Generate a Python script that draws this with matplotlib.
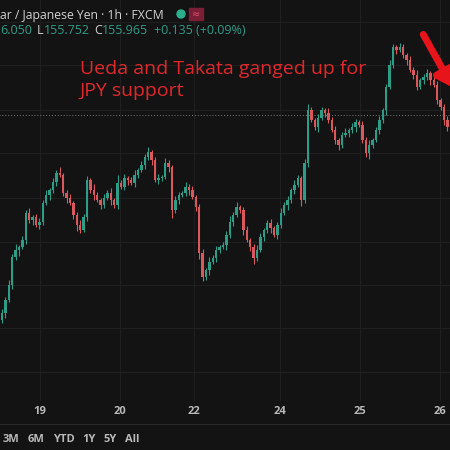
import matplotlib.pyplot as plt
import numpy as np

# closes, in screen pixels (y grows downward)
close_px = [313, 300, 285, 257, 250, 247, 240, 213, 220, 217, 225, 222,
            203, 195, 190, 182, 173, 175, 193, 198, 203, 215, 225, 230,
            217, 180, 190, 195, 200, 205, 198, 193, 200, 205, 183, 187,
            178, 180, 183, 175, 170, 165, 157, 152, 160, 180, 178, 177,
            163, 167, 210, 200, 195, 193, 187, 190, 197, 207, 253, 277,
            270, 262, 258, 250, 247, 245, 235, 222, 215, 207, 210, 230,
            240, 247, 258, 250, 237, 230, 223, 228, 235, 225, 213, 205,
            200, 190, 185, 178, 200, 163, 110, 120, 127, 118, 110, 113,
            120, 130, 140, 145, 135, 133, 130, 127, 122, 125, 140, 153,
            145, 140, 130, 120, 110, 87, 65, 47, 50, 47, 55, 60,
            70, 75, 87, 80, 77, 73, 80, 85, 100, 107, 120, 127]
wick_up = [4, 3, 5, 3, 6, 2, 4, 3, 5, 2, 3, 4, 3, 5, 2, 4, 3, 6, 2, 3,
           4, 2, 3, 5, 3, 4, 2, 6, 3, 2, 4, 3, 5, 2, 8, 3, 4, 2, 3, 5,
           2, 4, 3, 5, 2, 3, 4, 2, 5, 3, 2, 4, 3, 2, 5, 3, 4, 2, 3, 4,
           2, 5, 3, 4, 2, 3, 4, 6, 3, 5, 2, 3, 4, 2, 3, 5, 4, 2, 3, 4,
           2, 3, 5, 3, 4, 2, 5, 3, 2, 4, 6, 3, 2, 4, 3, 2, 5, 3, 4, 2,
           3, 5, 2, 4, 3, 2, 4, 3, 5, 2, 3, 4, 2, 3, 5, 3, 2, 4, 3, 2,
           4, 3, 5, 2, 3, 4, 2, 3, 4, 2, 3, 4]
wick_dn = [3, 5, 2, 4, 3, 6, 2, 4, 3, 5, 2, 4, 3, 2, 5, 3, 4, 2, 3, 5,
           2, 4, 6, 3, 2, 4, 3, 5, 2, 4, 3, 2, 5, 3, 4, 2, 3, 5, 2, 4,
           3, 2, 4, 3, 5, 2, 4, 3, 2, 5, 8, 3, 4, 2, 3, 5, 2, 4, 6, 4,
           3, 5, 2, 4, 3, 2, 5, 3, 4, 2, 3, 5, 2, 4, 6, 3, 2, 4, 3, 5,
           2, 4, 3, 2, 5, 3, 4, 2, 6, 3, 4, 2, 3, 5, 2, 4, 3, 2, 4, 5,
           3, 2, 4, 3, 5, 2, 3, 4, 6, 3, 2, 4, 3, 5, 2, 3, 4, 2, 3, 5,
           2, 4, 3, 2, 4, 3, 5, 2, 4, 3, 5, 4]
date_labels = ["19", "20", "22", "24", "25", "26"]
date_pos = [11.2, 34.7, 56.5, 81.8, 105.3, 128.8]
ranges = ["3M", "6M", "YTD", "1Y", "5Y", "All"]
last_close = 155.965


def px_to_price(y):
    return last_close + (115 - np.asarray(y, dtype=float)) * 0.01


close = px_to_price(close_px)
opens = np.concatenate([[px_to_price(320)], close[:-1]])
highs = np.maximum(opens, close) + np.array(wick_up) * 0.01
lows = np.minimum(opens, close) - np.array(wick_dn) * 0.01

BG = "#131313"
GREEN = "#2f9c86"
RED = "#d9585d"
TXT = "#b8b8b8"

fig = plt.figure(figsize=(4.5, 4.5), dpi=100, facecolor=BG)
ax = fig.add_axes([0, 0, 1, 1])
ax.set_facecolor(BG)
ax.set_xlim(-2 / 3.4, 448 / 3.4)
ax.set_ylim(px_to_price(450), px_to_price(0))
ax.axis("off")
renderer = fig.canvas.get_renderer()

# grid
for gy in [22, 65, 110, 153, 198, 242, 285, 328, 372]:
    ax.plot([-5, 140], [px_to_price(gy)] * 2, color="#1f1f1f", lw=0.8, zorder=0)
for gx in date_pos:
    ax.plot([gx, gx], [px_to_price(0), px_to_price(400)], color="#1f1f1f",
            lw=0.8, zorder=0)

# candles
idx = np.arange(len(close))
colors = [GREEN if c >= o else RED for o, c in zip(opens, close)]
ax.vlines(idx, lows, highs, colors=colors, lw=0.8, zorder=2)
ax.bar(idx, close - opens, bottom=opens, width=0.7, color=colors, zorder=3)

# last price dotted line
ax.plot([-5, 140], [last_close] * 2, color="#7a7a7a", lw=0.7, ls=(0, (1, 2)),
        zorder=1)

# x axis labels and bottom toolbar
for lab, p in zip(date_labels, date_pos):
    ax.text(p, px_to_price(412), lab, color=TXT, fontsize=8, ha="center",
            va="center", fontfamily="Open Sans", fontweight="bold")
ax.plot([-5, 140], [px_to_price(424)] * 2, color="#2a2a2a", lw=0.8)
x0 = 3
for r in ranges:
    t = fig.text(x0 / 450, 1 - 440 / 450, r, color=TXT, fontsize=8,
                 va="center", fontfamily="Open Sans", fontweight="bold")
    x0 += t.get_window_extent(renderer).width + 8

# header
fig.text(0, 1 - 15 / 450, "ar / Japanese Yen · 1h · FXCM", color="#d0d0d0",
         fontsize=8.8, va="center", fontfamily="Open Sans")
fig.patches.append(plt.Circle((181 / 450, 1 - 14 / 450), 4 / 450,
                              color="#2bb08e", transform=fig.transFigure))
fig.patches.append(plt.Rectangle((189 / 450, 1 - 20 / 450), 14 / 450, 12 / 450,
                                 color="#7a1f35", transform=fig.transFigure))
fig.text(196 / 450, 1 - 14 / 450, "≈", color="#e05070", fontsize=7,
         ha="center", va="center")
parts = [("6.050", GREEN, 5), ("L", "#d0d0d0", 0), ("155.752", GREEN, 5),
         ("C", "#d0d0d0", 0), ("155.965", GREEN, 6), ("+0.135 (+0.09%)", GREEN, 0)]
xp = 0
for s, c, gap in parts:
    t = fig.text(xp / 450, 1 - 30 / 450, s, color=c, fontsize=9, va="center",
                 fontfamily="Open Sans")
    xp += t.get_window_extent(renderer).width + gap

# annotation
fig.text(80 / 450, 1 - 80 / 450, "Ueda and Takata ganged up for\nJPY support",
         color="#e0282c", fontsize=14, va="center", linespacing=1.35,
         fontfamily="Open Sans")
ax.annotate("", xy=(133, px_to_price(90)), xytext=(123.5, px_to_price(32)),
            annotation_clip=False,
            arrowprops=dict(arrowstyle="-|>,head_width=0.6,head_length=0.9",
                            color="#e8141c", lw=5))

fig.savefig("out.png", dpi=100, facecolor=BG)
